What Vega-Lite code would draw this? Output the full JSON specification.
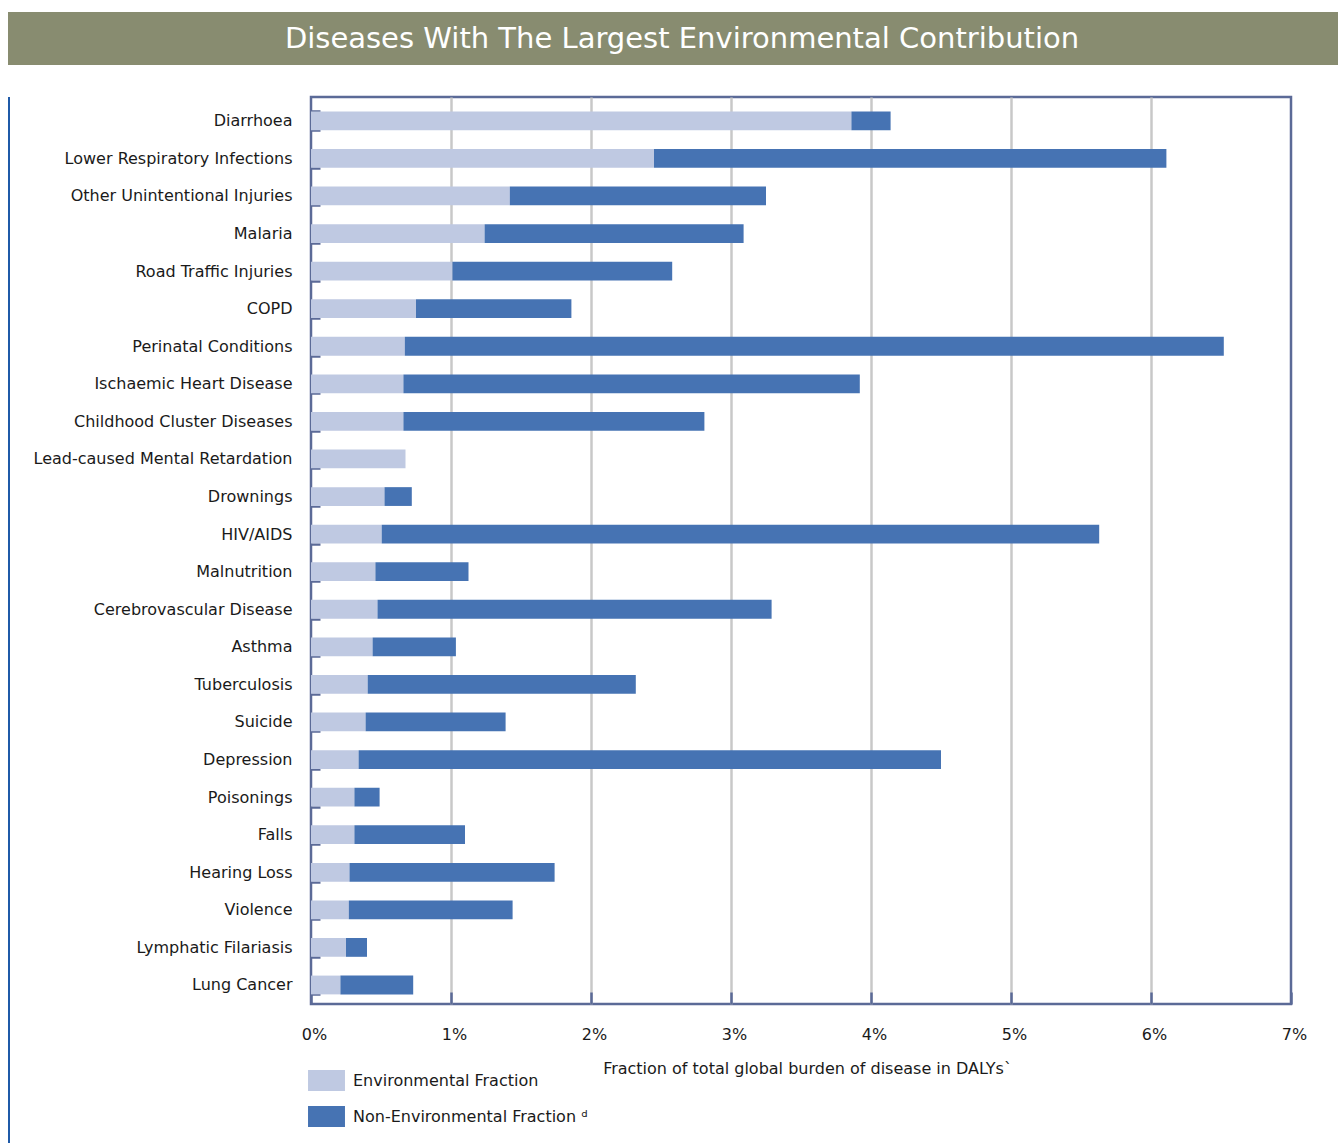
{
  "$schema": "https://vega.github.io/schema/vega-lite/v6.json",
  "background": "white",
  "padding": {"left": 8, "top": 12, "right": 0, "bottom": 0},
  "config": {"font": "DejaVu Sans"},
  "spacing": 22,
  "resolve": {"legend": {"color": "independent"}},
  "vconcat": [
    {
      "width": 1330,
      "height": 53,
      "view": {"fill": "#888c70", "stroke": null},
      "data": {"values": [{"title": "Diseases With The Largest Environmental Contribution"}]},
      "mark": {"type": "text", "color": "white", "fontSize": 29, "font": "DejaVu Sans", "baseline": "middle", "align": "center", "dx": 9},
      "encoding": {"text": {"field": "title", "type": "nominal"}}
    },
    {
      "spacing": 0,
      "resolve": {"legend": {"color": "independent"}},
      "hconcat": [
        {
          "width": 2,
          "height": 1046,
          "view": {"fill": "#1f5aa8", "stroke": null},
          "data": {"values": []},
          "mark": {"type": "rect"}
        },
        {
          "width": 980,
          "height": 907,
          "view": {"stroke": "#5b6a97", "strokeWidth": 2.5},
          "data": {"values": [
            {"disease": "Diarrhoea", "fraction": "Environmental Fraction", "value": 3.86},
            {"disease": "Diarrhoea", "fraction": "Non-Environmental Fraction", "value": 0.28},
            {"disease": "Lower Respiratory Infections", "fraction": "Environmental Fraction", "value": 2.45},
            {"disease": "Lower Respiratory Infections", "fraction": "Non-Environmental Fraction", "value": 3.66},
            {"disease": "Other Unintentional Injuries", "fraction": "Environmental Fraction", "value": 1.42},
            {"disease": "Other Unintentional Injuries", "fraction": "Non-Environmental Fraction", "value": 1.83},
            {"disease": "Malaria", "fraction": "Environmental Fraction", "value": 1.24},
            {"disease": "Malaria", "fraction": "Non-Environmental Fraction", "value": 1.85},
            {"disease": "Road Traffic Injuries", "fraction": "Environmental Fraction", "value": 1.01},
            {"disease": "Road Traffic Injuries", "fraction": "Non-Environmental Fraction", "value": 1.57},
            {"disease": "COPD", "fraction": "Environmental Fraction", "value": 0.75},
            {"disease": "COPD", "fraction": "Non-Environmental Fraction", "value": 1.11},
            {"disease": "Perinatal Conditions", "fraction": "Environmental Fraction", "value": 0.67},
            {"disease": "Perinatal Conditions", "fraction": "Non-Environmental Fraction", "value": 5.85},
            {"disease": "Ischaemic Heart Disease", "fraction": "Environmental Fraction", "value": 0.66},
            {"disease": "Ischaemic Heart Disease", "fraction": "Non-Environmental Fraction", "value": 3.26},
            {"disease": "Childhood Cluster Diseases", "fraction": "Environmental Fraction", "value": 0.66},
            {"disease": "Childhood Cluster Diseases", "fraction": "Non-Environmental Fraction", "value": 2.15},
            {"disease": "Lead-caused Mental Retardation", "fraction": "Environmental Fraction", "value": 0.675},
            {"disease": "Lead-caused Mental Retardation", "fraction": "Non-Environmental Fraction", "value": 0},
            {"disease": "Drownings", "fraction": "Environmental Fraction", "value": 0.525},
            {"disease": "Drownings", "fraction": "Non-Environmental Fraction", "value": 0.195},
            {"disease": "HIV/AIDS", "fraction": "Environmental Fraction", "value": 0.505},
            {"disease": "HIV/AIDS", "fraction": "Non-Environmental Fraction", "value": 5.125},
            {"disease": "Malnutrition", "fraction": "Environmental Fraction", "value": 0.46},
            {"disease": "Malnutrition", "fraction": "Non-Environmental Fraction", "value": 0.665},
            {"disease": "Cerebrovascular Disease", "fraction": "Environmental Fraction", "value": 0.475},
            {"disease": "Cerebrovascular Disease", "fraction": "Non-Environmental Fraction", "value": 2.815},
            {"disease": "Asthma", "fraction": "Environmental Fraction", "value": 0.44},
            {"disease": "Asthma", "fraction": "Non-Environmental Fraction", "value": 0.595},
            {"disease": "Tuberculosis", "fraction": "Environmental Fraction", "value": 0.405},
            {"disease": "Tuberculosis", "fraction": "Non-Environmental Fraction", "value": 1.915},
            {"disease": "Suicide", "fraction": "Environmental Fraction", "value": 0.39},
            {"disease": "Suicide", "fraction": "Non-Environmental Fraction", "value": 1.0},
            {"disease": "Depression", "fraction": "Environmental Fraction", "value": 0.34},
            {"disease": "Depression", "fraction": "Non-Environmental Fraction", "value": 4.16},
            {"disease": "Poisonings", "fraction": "Environmental Fraction", "value": 0.31},
            {"disease": "Poisonings", "fraction": "Non-Environmental Fraction", "value": 0.18},
            {"disease": "Falls", "fraction": "Environmental Fraction", "value": 0.31},
            {"disease": "Falls", "fraction": "Non-Environmental Fraction", "value": 0.79},
            {"disease": "Hearing Loss", "fraction": "Environmental Fraction", "value": 0.275},
            {"disease": "Hearing Loss", "fraction": "Non-Environmental Fraction", "value": 1.465},
            {"disease": "Violence", "fraction": "Environmental Fraction", "value": 0.27},
            {"disease": "Violence", "fraction": "Non-Environmental Fraction", "value": 1.17},
            {"disease": "Lymphatic Filariasis", "fraction": "Environmental Fraction", "value": 0.25},
            {"disease": "Lymphatic Filariasis", "fraction": "Non-Environmental Fraction", "value": 0.15},
            {"disease": "Lung Cancer", "fraction": "Environmental Fraction", "value": 0.21},
            {"disease": "Lung Cancer", "fraction": "Non-Environmental Fraction", "value": 0.52}
          ]},
          "mark": {"type": "bar"},
          "encoding": {
            "y": {
              "field": "disease", "type": "nominal", "sort": null,
              "scale": {"paddingInner": 0.5, "paddingOuter": 0.32, "align": 0.6},
              "axis": {"title": null, "domain": false, "labelFont": "DejaVu Sans", "labelFontSize": 16, "labelColor": "#1a1a1a", "labelPadding": 28, "tickBand": "extent", "tickSize": -9, "tickColor": "#5b6a97", "tickWidth": 2.5, "grid": false, "labelLimit": 400, "minExtent": 299}
            },
            "x": {
              "field": "value", "type": "quantitative", "stack": "zero",
              "scale": {"domain": [0, 7], "nice": false},
              "axis": {
                "title": "Fraction of total global burden of disease in DALYs`",
                "values": [0, 1, 2, 3, 4, 5, 6, 7],
                "labelExpr": "datum.value + '%'",
                "domain": false,
                "grid": true,
                "gridColor": {"condition": {"test": "datum.value == 0 || datum.value == 7", "value": "transparent"}, "value": "#c8c8c8"},
                "gridWidth": 2.5,
                "tickSize": -12, "tickColor": "#5b6a97", "tickWidth": 2.5,
                "labelFont": "DejaVu Sans", "labelFontSize": 16, "labelColor": "#1a1a1a", "labelPadding": 34, "labelOffset": 3, "labelFlush": false,
                "titleFont": "DejaVu Sans", "titleFontSize": 16, "titleFontWeight": "normal", "titleColor": "#1a1a1a", "titlePadding": 18, "titleX": 496
              }
            },
            "color": {
              "field": "fraction", "type": "nominal",
              "scale": {"domain": ["Environmental Fraction", "Non-Environmental Fraction"], "range": ["#bfc9e2", "#4673b3"]},
              "legend": {
                "title": null, "orient": "none", "legendX": 5, "legendY": 973, "direction": "vertical",
                "symbolType": "M-1.76,-1H1.76V1H-1.76Z", "symbolSize": 441, "symbolStrokeWidth": 0, "symbolOpacity": 1,
                "labelFont": "DejaVu Sans", "labelFontSize": 16, "labelColor": "#1a1a1a", "labelOffset": 16, "rowPadding": 15, "labelLimit": 400,
                "labelExpr": "datum.label == 'Non-Environmental Fraction' ? datum.label + ' ᵈ' : datum.label"
              }
            }
          }
        }
      ]
    }
  ]
}
